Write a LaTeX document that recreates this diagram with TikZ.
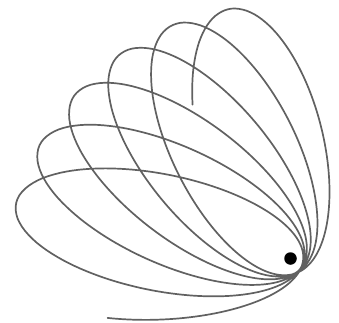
\documentclass[tikz,border=0pt]{standalone}
\begin{document}
\begin{tikzpicture}[x=1pt,y=-1pt,
  orbit/.style={line width=1.7pt, draw=black!62, line join=round, line cap=round},
  mass/.style={circle, fill=black, minimum size=12.5pt, inner sep=0pt},
  declare function={
    ra(\t)=280-0.013256*(\t-169);
    rp(\t)=13+0.001729*(\t-169);
    rr(\t)=2*ra(\t)*rp(\t)/((ra(\t)+rp(\t))+(ra(\t)-rp(\t))*cos(1.03717*(\t+4.85)));
  }]
\useasboundingbox (0,0) rectangle (339,322);
\coordinate (F) at (290.5,258.5);
\draw[orbit] plot[domain=-162:1922.5, samples=2600, variable=\t]
  ({290.5+rr(\t)*cos(\t)}, {258.5-rr(\t)*sin(\t)});
\node[mass] (dot) at (F) {};
\end{tikzpicture}
\end{document}
